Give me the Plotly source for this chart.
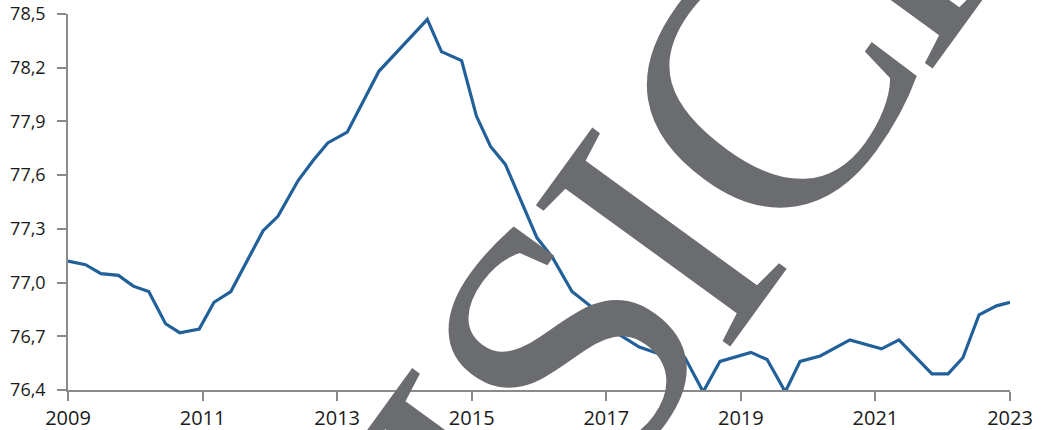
import math
import plotly.graph_objects as go

# Decimal year positions
years = [2009.00, 2009.26, 2009.49, 2009.75, 2009.97, 2010.20, 2010.45, 2010.66, 2010.95,
         2011.17, 2011.42, 2011.90, 2012.12, 2012.42, 2012.64, 2012.86, 2013.15, 2013.62,
         2014.34, 2014.55, 2014.85, 2015.07, 2015.28, 2015.50, 2015.97, 2016.20, 2016.49,
         2016.76, 2016.98, 2017.49, 2017.95, 2018.17, 2018.44, 2018.69, 2019.15, 2019.39,
         2019.66, 2019.88, 2020.18, 2020.62, 2021.09, 2021.35, 2021.84, 2022.08, 2022.30,
         2022.54, 2022.80, 2023.00]
values = [77.12, 77.10, 77.05, 77.04, 76.98, 76.95, 76.77, 76.72, 76.74,
          76.89, 76.95, 77.29, 77.37, 77.57, 77.68, 77.78, 77.84, 78.18,
          78.47, 78.29, 78.24, 77.93, 77.76, 77.66, 77.25, 77.14, 76.95,
          76.87, 76.76, 76.64, 76.58, 76.58, 76.39, 76.56, 76.61, 76.57,
          76.39, 76.56, 76.59, 76.68, 76.63, 76.68, 76.49, 76.49, 76.58,
          76.82, 76.87, 76.89]

x_ticks = [2009, 2011, 2013, 2015, 2017, 2019, 2021, 2023]
y_ticks = [76.4, 76.7, 77.0, 77.3, 77.6, 77.9, 78.2, 78.5]
watermark_letters = ["I", "S", "I", "C", "I"]

W, H = 1042, 430
ML, MR, MT, MB = 68, 32, 14, 40

fig = go.Figure()
fig.add_trace(go.Scatter(x=years, y=values, mode="lines",
                         line=dict(color="#22609a", width=3.2), showlegend=False))

axis_common = dict(showgrid=False, zeroline=False, showline=True, linecolor="#8a8a8a",
                   linewidth=1.5, ticks="outside", ticklen=9, tickwidth=1.5,
                   tickcolor="#8a8a8a", automargin=False)
fig.update_xaxes(range=[2009, 2023], tickvals=x_ticks, ticktext=[str(t) for t in x_ticks],
                 tickfont=dict(family="Open Sans", size=20, color="#1a1a1a"), **axis_common)
fig.update_yaxes(range=[76.4, 78.5], tickvals=y_ticks, tickformat=".1f",
                 ticklabelstandoff=8,
                 tickfont=dict(family="Open Sans", size=18, color="#1a1a1a"), **axis_common)

# Watermark: large rotated serif letters laid along a diagonal baseline
angle = 54.0
ux, uy = math.cos(math.radians(angle)), -math.sin(math.radians(angle))
dx, dy = -uy, ux
anchor_x, anchor_y = 658, 235
offsets = [(-300, -4), (-145, -10), (0, 0), (180, 0), (344, 0)]
pw, ph = W - ML - MR, H - MT - MB
for letter, (ou, od) in zip(watermark_letters, offsets):
    px = anchor_x + ou * ux + od * dx
    py = anchor_y + ou * uy + od * dy
    fig.add_annotation(text=letter, xref="paper", yref="paper",
                       x=(px - ML) / pw, y=(H - MB - py) / ph,
                       xanchor="center", yanchor="middle", showarrow=False,
                       textangle=-angle,
                       font=dict(family="Liberation Serif", size=367, color="#6b6c70"))

fig.update_layout(template="none", width=W, height=H, separators=",.",
                  margin=dict(l=ML, r=MR, t=MT, b=MB),
                  plot_bgcolor="white", paper_bgcolor="white")

fig.write_html("out.html", config={"displayModeBar": False},
               post_script="document.body.style.margin='0';")
